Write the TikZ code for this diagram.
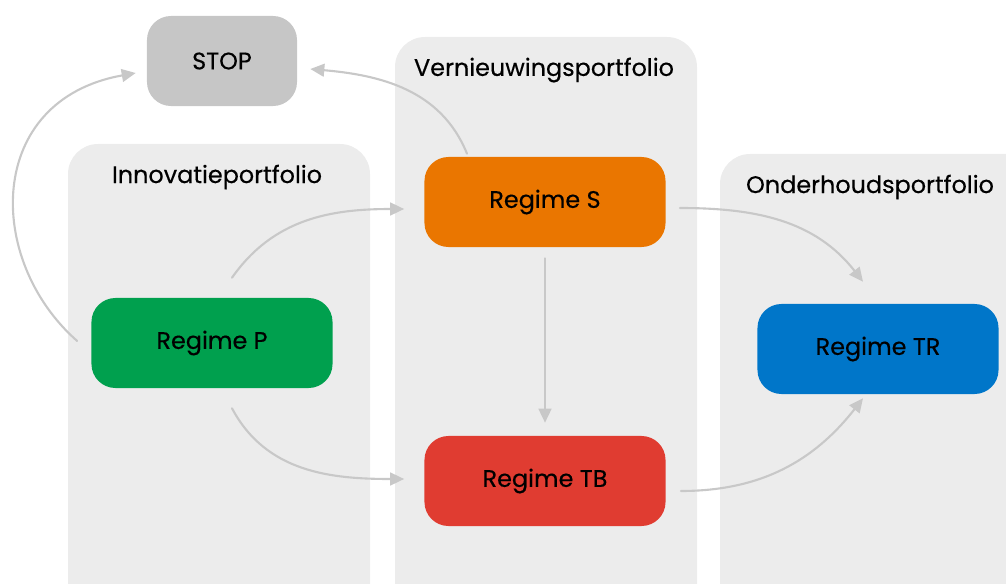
\documentclass[tikz,border=0pt]{standalone}
\usepackage{fontspec}
\setmainfont{Poppins}[FakeBold=0.4]
\usetikzlibrary{arrows.meta}
\definecolor{paneel}{HTML}{ECECEC}
\definecolor{stopgrijs}{HTML}{C6C6C6}
\definecolor{pijlgrijs}{HTML}{C8C8C8}
\definecolor{groen}{HTML}{00A04E}
\definecolor{oranje}{HTML}{EA7600}
\definecolor{rood}{HTML}{E03C31}
\definecolor{blauw}{HTML}{0076C9}
\begin{document}
\begin{tikzpicture}[x=0.025cm, y=-0.025cm, font=\fontsize{17}{19}\selectfont, line join=round, line cap=round,
	>={Triangle[length=0.35cm,width=0.32cm]},
	regime/.style={rounded corners=0.6cm, minimum width=6.025cm, minimum height=2.25cm, inner sep=0pt},
	pijl/.style={draw=pijlgrijs, line width=1.5pt, ->}]%Portfolios
	\clip (0,0) rectangle (1006,584);
	\foreach \xa/\ya/\xb in {68/144/370, 395/37/697, 720/154/1060}
	\fill[paneel, rounded corners=0.75cm] (\xa,\ya) rectangle (\xb,660);
	\node (innov) at (217,177) {Innovatieportfolio};
	\node (vernieuw) at (544,70) {Vernieuwingsportfolio};
	\node (onderhoud) at (870,187) {Onderhoudsportfolio};
	\node[regime, fill=stopgrijs, minimum width=3.75cm] (STOP) at (222,61) {STOP};
	\node[regime, fill=groen] (P) at (212,343) {Regime P};
	\node[regime, fill=oranje] (S) at (545,202) {Regime S};
	\node[regime, fill=rood] (TB) at (545,481) {Regime TB};
	\node[regime, fill=blauw] (TR) at (878,349) {Regime TR};
	\draw[pijl] ([shift={(-14,-2)}]P.west) .. controls (-15,260) and (-15,100) .. ([shift={(-11,12)}]STOP.west);
	\draw[pijl] ([shift={(-78,-3)}]S.north) to[out=112,in=-5] ([shift={(13,8)}]STOP.east);
	\draw[pijl] ([shift={(20,-20)}]P.north) to[out=55,in=180] ([shift={(-20,7)}]S.west);
	\draw[pijl] ([shift={(20,20)}]P.south) to[out=-62,in=180] ([shift={(-20,-2)}]TB.west);
	\draw[pijl] ([shift={(0,11)}]S.south) -- ([shift={(0,-13)}]TB.north);
	\draw[pijl] ([shift={(14,6)}]S.east) to[out=0,in=128] ([shift={(-15,-22)}]TR.north);
	\draw[pijl] ([shift={(15,10)}]TB.east) to[out=0,in=-128] ([shift={(-15,4)}]TR.south);
\end{tikzpicture}
\end{document}
